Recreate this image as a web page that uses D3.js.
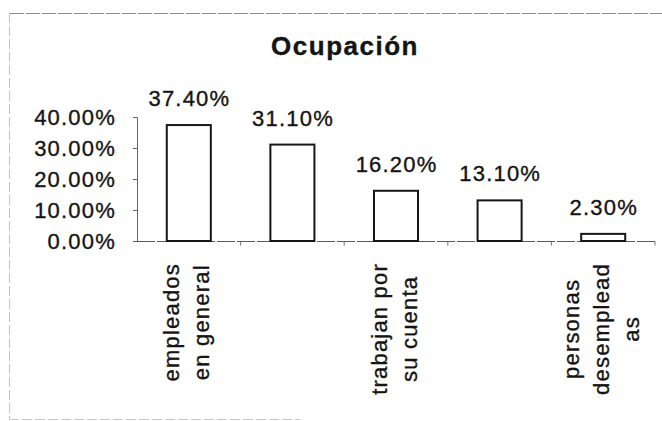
<!DOCTYPE html>
<html lang="es">
<head>
    <meta charset="UTF-8">
    <title>Ocupación</title>
    <style>
        body {
            margin: 0;
            padding: 0;
            background-color: #ffffff;
        }
        text {
            font-family: "Liberation Sans", Arial, sans-serif;
            fill: #141414;
            stroke: #141414;
            stroke-width: 0.35px;
        }
        .bar {
            fill: #ffffff;
            stroke: #161616;
            stroke-width: 2;
        }
    </style>
    <script src="https://d3js.org/d3.v7.min.js"></script>
</head>
<body>
    <div id="chart"></div>

    <script>
        // values
        const title = "Ocupación";
        const values = [0.374, 0.311, 0.162, 0.131, 0.023];
        // only every other category name is printed in the original
        const labelLines = [
            ["empleados", "en general"],
            [],
            ["trabajan por", "su cuenta"],
            [],
            ["personas", "desemplead", "as"]
        ];
        const yTicks = [0, 0.1, 0.2, 0.3, 0.4];

        const width = 662, height = 421;
        const plot = { left: 137, right: 655, top: 117, bottom: 241 };
        const fontSize = "22px", spacing = "1.2px";

        const svg = d3.select("#chart")
            .append("svg")
            .attr("width", width)
            .attr("height", height);

        // frame of the scanned chart
        svg.append("line")
            .attr("x1", 10).attr("x2", width).attr("y1", 13.5).attr("y2", 13.5)
            .attr("stroke", "#8a8a8a").attr("stroke-dasharray", "14,2");
        svg.append("line")
            .attr("x1", 9.5).attr("x2", 9.5).attr("y1", 13).attr("y2", 419)
            .attr("stroke", "#c4c4c4").attr("stroke-dasharray", "10,3");
        svg.append("line")
            .attr("x1", 9).attr("x2", 300).attr("y1", 419.5).attr("y2", 419.5)
            .attr("stroke", "#c8c8c8").attr("stroke-dasharray", "10,3");

        const x = d3.scaleBand()
            .domain(values.map((_, i) => i))
            .range([plot.left, plot.right])
            .paddingInner(0.575)
            .paddingOuter(0.2875);

        const y = d3.scaleLinear()
            .domain([0, 0.4])
            .range([plot.bottom, plot.top]);

        // y axis
        const yAxis = svg.append("g")
            .attr("transform", `translate(${plot.left},0)`)
            .call(d3.axisLeft(y).tickValues(yTicks).tickFormat(d3.format(".2%")).tickSizeOuter(0).tickSize(4).tickPadding(17));
        yAxis.select(".domain").attr("stroke", "#666");
        yAxis.selectAll(".tick line").attr("stroke", "#666");
        yAxis.selectAll(".tick text")
            .attr("dy", "0.34em")
            .style("font-size", fontSize)
            .style("letter-spacing", spacing)
            .attr("fill", "#141414");

        // x axis: ticks at category boundaries
        const step = x.step();
        const boundaries = values.map((_, i) => x(i) + x.bandwidth() / 2 + step / 2);
        const xAxis = svg.append("g").attr("transform", `translate(0,${plot.bottom + 0.5})`);
        xAxis.append("line")
            .attr("x1", plot.left).attr("x2", plot.right)
            .attr("stroke", "#5a5a5a").attr("stroke-dasharray", "18,2");
        xAxis.selectAll(".xtick")
            .data(boundaries)
            .enter().append("line")
            .attr("class", "xtick")
            .attr("x1", d => d).attr("x2", d => d)
            .attr("y1", 0).attr("y2", 4)
            .attr("stroke", "#777");

        // bars
        svg.selectAll(".bar")
            .data(values)
            .enter().append("rect")
            .attr("class", "bar")
            .attr("x", (d, i) => x(i))
            .attr("y", d => y(d))
            .attr("width", x.bandwidth())
            .attr("height", d => y(0) - y(d));

        // value labels
        svg.selectAll(".value")
            .data(values)
            .enter().append("text")
            .attr("class", "value")
            .attr("x", (d, i) => x(i) + x.bandwidth() / 2 + 0.6)
            .attr("y", d => y(d) - 19)
            .attr("text-anchor", "middle")
            .style("font-size", fontSize)
            .style("letter-spacing", spacing)
            .text(d3.format(".2%"));

        // rotated category labels, lines centred along the text direction
        const lineGap = 30;
        const labelTop = plot.bottom + 22;
        labelLines.forEach((lines, i) => {
            if (!lines.length) return;
            const cx = x(i) + x.bandwidth() / 2;
            const g = svg.append("g");
            const texts = lines.map((t, j) => g.append("text")
                .attr("text-anchor", "middle")
                .attr("y", (j - (lines.length - 1) / 2) * lineGap + 5.5)
                .style("font-size", fontSize)
                .style("letter-spacing", spacing)
                .text(t));
            const maxLen = d3.max(texts, t => t.node().getComputedTextLength());
            g.attr("transform", `translate(${cx},${labelTop + maxLen / 2}) rotate(-90)`);
        });

        // title
        svg.append("text")
            .attr("x", 345)
            .attr("y", 55)
            .attr("text-anchor", "middle")
            .style("font-size", "26px")
            .style("font-weight", "bold")
            .style("letter-spacing", "1.5px")
            .text(title);
    </script>
</body>
</html>
